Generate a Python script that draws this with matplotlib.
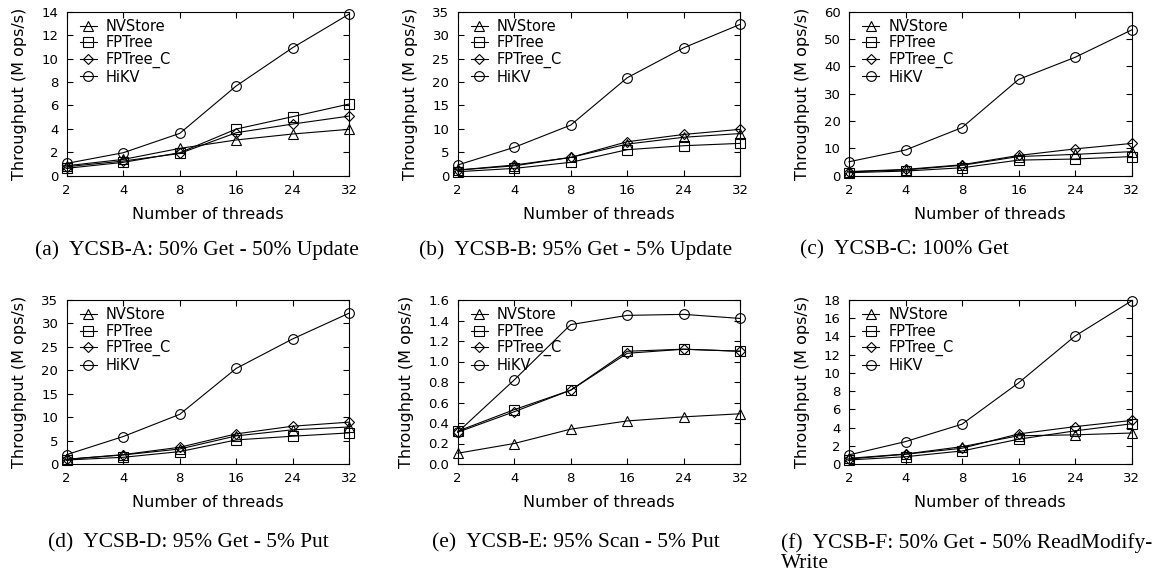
import numpy as np
import matplotlib
matplotlib.use('Agg')
import matplotlib.pyplot as plt

threads = ['2', '4', '8', '16', '24', '32']
systems = ['NVStore', 'FPTree', 'FPTree_C', 'HiKV']
markers = ['^', 's', 'D', 'o']
msizes = [7, 6.5, 5.5, 7]

# (a) YCSB-A
a_nvstore = [0.85, 1.39, 2.33, 3.05, 3.56, 3.96]
a_fptree = [0.63, 1.14, 1.96, 3.98, 5.04, 6.12]
a_fptree_c = [0.77, 1.25, 1.90, 3.67, 4.41, 5.09]
a_hikv = [1.05, 1.96, 3.61, 7.66, 10.93, 13.8]

# (b) YCSB-B
b_nvstore = [1.2, 2.1, 3.9, 6.75, 8.2, 9.0]
b_fptree = [0.85, 1.56, 2.85, 5.55, 6.4, 6.9]
b_fptree_c = [1.2, 2.28, 3.9, 7.25, 8.8, 9.9]
b_hikv = [2.28, 6.05, 10.8, 20.9, 27.3, 32.3]

# (c) YCSB-C
c_nvstore = [1.4, 2.1, 3.8, 7.0, 7.8, 8.8]
c_fptree = [1.1, 1.7, 2.9, 5.7, 6.1, 7.0]
c_fptree_c = [1.5, 2.3, 4.0, 7.4, 9.8, 11.8]
c_hikv = [5.1, 9.4, 17.6, 35.2, 43.3, 53.3]

# (d) YCSB-D
d_nvstore = [1.0, 1.93, 3.2, 6.0, 7.3, 7.9]
d_fptree = [0.86, 1.43, 2.64, 5.14, 5.93, 6.64]
d_fptree_c = [1.0, 2.0, 3.57, 6.43, 8.07, 8.93]
d_hikv = [2.0, 5.86, 10.6, 20.4, 26.7, 32.2]

# (e) YCSB-E
e_nvstore = [0.105, 0.2, 0.34, 0.42, 0.46, 0.49]
e_fptree = [0.32, 0.53, 0.72, 1.10, 1.12, 1.10]
e_fptree_c = [0.31, 0.51, 0.72, 1.08, 1.12, 1.10]
e_hikv = [0.31, 0.82, 1.36, 1.45, 1.46, 1.42]

# (f) YCSB-F
f_nvstore = [0.62, 1.1, 1.9, 3.1, 3.2, 3.4]
f_fptree = [0.44, 0.8, 1.43, 2.72, 3.64, 4.41]
f_fptree_c = [0.55, 1.07, 1.73, 3.3, 4.1, 4.78]
f_hikv = [1.0, 2.46, 4.37, 8.9, 14.04, 17.9]

panels = [
    ([a_nvstore, a_fptree, a_fptree_c, a_hikv], 14, 2, '%d'),
    ([b_nvstore, b_fptree, b_fptree_c, b_hikv], 35, 5, '%d'),
    ([c_nvstore, c_fptree, c_fptree_c, c_hikv], 60, 10, '%d'),
    ([d_nvstore, d_fptree, d_fptree_c, d_hikv], 35, 5, '%d'),
    ([e_nvstore, e_fptree, e_fptree_c, e_hikv], 1.6, 0.2, '%.1f'),
    ([f_nvstore, f_fptree, f_fptree_c, f_hikv], 18, 2, '%d'),
]

captions = ['(a)  YCSB-A: 50% Get - 50% Update',
            '(b)  YCSB-B: 95% Get - 5% Update',
            '(c)  YCSB-C: 100% Get',
            '(d)  YCSB-D: 95% Get - 5% Put',
            '(e)  YCSB-E: 95% Scan - 5% Put',
            '(f)  YCSB-F: 50% Get - 50% ReadModify-']

plt.rcParams['font.family'] = 'DejaVu Sans'

W, H = 1167, 577
fig = plt.figure(figsize=(W / 100, H / 100), dpi=100)

lefts = [66.7, 457.7, 849]
tops = [11.7, 300]
aw, ah = 282.5, 164

x = np.arange(len(threads))
for i, (series, ymax, ystep, fmt) in enumerate(panels):
    r, c = divmod(i, 3)
    ax = fig.add_axes([lefts[c] / W, 1 - (tops[r] + ah) / H, aw / W, ah / H])
    for vals, name, m, ms in zip(series, systems, markers, msizes):
        ax.plot(x, vals, color='black', lw=0.8, marker=m, ms=ms,
                mfc='none', mec='black', mew=0.8, label=name, clip_on=False)
    ax.set_xlim(0, len(threads) - 1)
    ax.set_ylim(0, ymax)
    ax.set_xticks(x)
    ax.set_xticklabels(threads)
    yt = np.arange(0, ymax + ystep / 2, ystep)
    ax.set_yticks(yt)
    ax.set_yticklabels([fmt % v for v in yt])
    ax.tick_params(direction='in', top=True, right=True, length=4,
                   width=0.8, labelsize=9.5, pad=6)
    for s in ax.spines.values():
        s.set_linewidth(0.8)
    ax.set_xlabel('Number of threads', fontsize=11.5, labelpad=7)
    ax.set_ylabel('Throughput (M ops/s)', fontsize=11.5, labelpad=10)
    ax.legend(loc='upper left', frameon=False, fontsize=10.5, handlelength=1.2,
              handletextpad=0.6, labelspacing=0.1, borderaxespad=0.1,
              bbox_to_anchor=(0.02, 1.0))

cap_x = [197, 576, 904, 188, 576]
cap_y = [250, 250, 250, 543, 543]
for j in range(5):
    fig.text(cap_x[j] / W, 1 - cap_y[j] / H, captions[j], ha='center',
             va='center', fontsize=15.4, family='Liberation Serif')
fig.text(781 / W, 1 - 543 / H, captions[5], ha='left', va='center',
         fontsize=15.4, family='Liberation Serif')
fig.text(781 / W, 1 - 563 / H, 'Write', ha='left', va='center',
         fontsize=15.4, family='Liberation Serif')

fig.savefig('out.png', dpi=100)
